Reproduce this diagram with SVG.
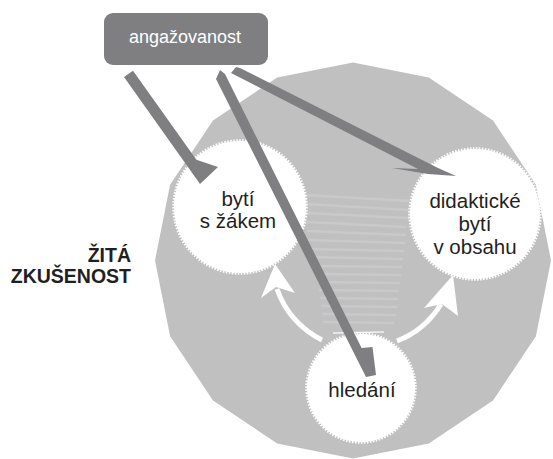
<svg xmlns="http://www.w3.org/2000/svg" width="553" height="459" viewBox="0 0 553 459">
<style>
  .bg { fill: #c0c0c0; }
  .stripe { stroke: #c9c9cb; stroke-width: 2.5; stroke-linecap: round; fill: none; }
  .bubble { fill: #ffffff; }
  .bubble-edge { fill: none; stroke: #ffffff; stroke-width: 2.5; stroke-dasharray: 1.6 1.4; }
  .dark { fill: #7f7f82; }
  .warc { fill: none; stroke: #ffffff; stroke-width: 5; }
  .whead { fill: #ffffff; }
  .lbl { font-family: "Liberation Sans", Arial, sans-serif; font-size: 20.5px; fill: #231f20; text-anchor: middle; }
  .side { font-family: "Liberation Sans", Arial, sans-serif; font-size: 19.5px; font-weight: bold; fill: #231f20; text-anchor: end; }
  .top { font-family: "Liberation Sans", Arial, sans-serif; font-size: 18px; fill: #ffffff; text-anchor: middle; }
</style>

<g id="experience-field">
  <polygon class="bg" points="353,62.5 428.8,77.6 493,120.5 535.9,184.7 551,260.5 535.9,336.3 493,400.5 428.8,443.4 353,458.5 277.2,443.4 213,400.5 170.1,336.3 155,260.5 170.1,184.7 213,120.5 277.2,77.6"/>
  <g id="stripes">
    <line class="stripe" x1="305" y1="195" x2="408" y2="201"/>
    <line class="stripe" x1="305" y1="204" x2="408" y2="210"/>
    <line class="stripe" x1="306" y1="213" x2="407" y2="218"/>
    <line class="stripe" x1="307" y1="222" x2="406" y2="227"/>
    <line class="stripe" x1="308" y1="231" x2="405" y2="235"/>
    <line class="stripe" x1="309" y1="240" x2="404" y2="243"/>
    <line class="stripe" x1="311" y1="249" x2="403" y2="251"/>
    <line class="stripe" x1="313" y1="257" x2="402" y2="259"/>
    <line class="stripe" x1="315" y1="266" x2="401" y2="267"/>
    <line class="stripe" x1="317" y1="274" x2="400" y2="275"/>
    <line class="stripe" x1="319" y1="282" x2="399" y2="283"/>
    <line class="stripe" x1="320" y1="290" x2="398" y2="291"/>
    <line class="stripe" x1="321" y1="298" x2="397" y2="299"/>
    <line class="stripe" x1="322" y1="306" x2="396" y2="307"/>
    <line class="stripe" x1="323" y1="314" x2="395" y2="315"/>
    <line class="stripe" x1="324" y1="322" x2="393" y2="323"/>
    <line x1="333" y1="333" x2="384" y2="332" stroke="#f2f2f2" stroke-width="1.5"/>
  </g>
  <text class="side" x="131" y="262">ŽITÁ</text>
  <text class="side" x="131" y="283">ZKUŠENOST</text>
</g>

<g id="connectors">
  <g id="cycle-arrows">
    <path class="warc" d="M 322 340 A 89 89 0 0 1 277 289"/>
    <polygon class="whead" points="275,264 295,293 276,287 261,298"/>
    <path class="warc" d="M 397 341 A 89 89 0 0 0 441 304"/>
    <polygon class="whead" points="453,275 458,316 442,304 424,308"/>
  </g>
</g>

<g id="node-byti-s-zakem">
  <circle class="bubble" cx="240" cy="207" r="66"/>
  <circle class="bubble-edge" cx="240" cy="207" r="66.5"/>
  <text class="lbl" x="238" y="206">bytí</text>
  <text class="lbl" x="238" y="228">s žákem</text>
</g>

<g id="node-didakticke-byti">
  <circle class="bubble" cx="475" cy="214" r="65"/>
  <circle class="bubble-edge" cx="475" cy="214" r="65.5"/>
  <text class="lbl" x="475" y="208">didaktické</text>
  <text class="lbl" x="475" y="231">bytí</text>
  <text class="lbl" x="475" y="254">v obsahu</text>
</g>

<g id="node-hledani">
  <circle class="bubble" cx="361" cy="388" r="54"/>
  <circle class="bubble-edge" cx="361" cy="388" r="54.5"/>
  <text class="lbl" x="362" y="397">hledání</text>
</g>

<g id="connectors-engagement">
  <polygon class="dark" points="124,77 133,70.7 196.4,159.7 218,167 200,184"/>
  <polygon class="dark" points="216,79 220,70 225,74 361.6,347.9 372.5,347 376,375 366,377"/>
  <polygon class="dark" points="231,73 236,67 240,68 438,168 456,176 428,174 392,168 418,169"/>
</g>

<g id="node-angazovanost">
  <rect x="104" y="13" width="164" height="52" rx="9" ry="9" fill="#7f7f82"/>
  <text class="top" x="185" y="43">angažovanost</text>
</g>
</svg>
